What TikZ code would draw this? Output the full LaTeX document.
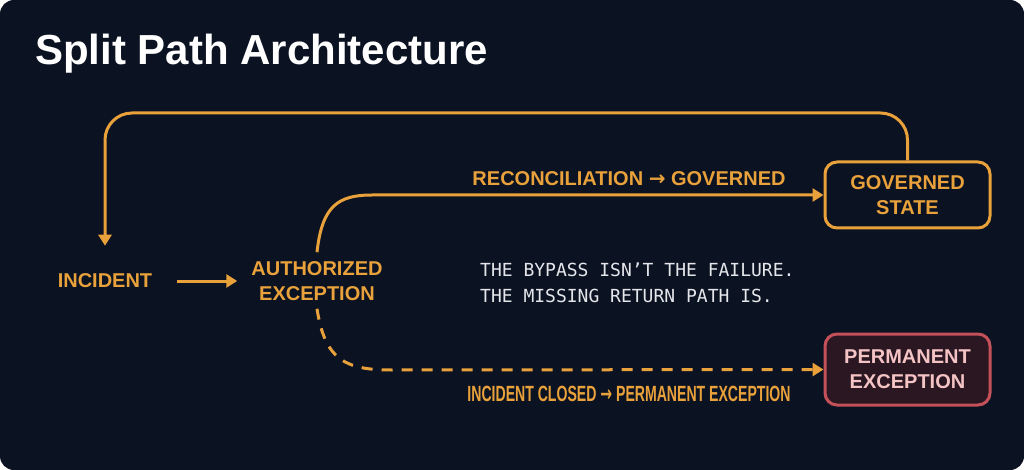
\documentclass[tikz,border=0pt]{standalone}
\usepackage{fontspec}
\setmainfont{Liberation Sans}
\newfontfamily\monofont{DejaVu Sans Mono}
\newfontfamily\arrfont{DejaVu Sans}
\newcommand{\myarr}{{\arrfont\bfseries →}}
\usetikzlibrary{arrows.meta}
\definecolor{bg}{HTML}{0B1222}
\definecolor{org}{HTML}{E9A23B}
\definecolor{permfill}{HTML}{2B1722}
\definecolor{permline}{HTML}{C4505A}
\definecolor{permtext}{HTML}{F4C3C4}
\definecolor{monotext}{HTML}{E4E6EA}
\tikzset{
  lbl/.style={inner sep=0pt, text=org, align=center, font=\fontsize{20}{25}\selectfont\bfseries},
  govbox/.style={draw=org, line width=3pt, rounded corners=12pt, fill=bg, minimum width=165pt, minimum height=66pt, inner sep=0pt, text=org, align=center, font=\fontsize{20}{25}\selectfont\bfseries},
  permbox/.style={draw=permline, line width=3pt, rounded corners=12pt, fill=permfill, minimum width=165pt, minimum height=71pt, inner sep=0pt, text=permtext, align=center, font=\fontsize{20}{25}\selectfont\bfseries},
  flow/.style={draw=org, line width=3pt, -{Triangle[length=11pt,width=13pt]}},
  dashflow/.style={flow, dash pattern=on 11pt off 9pt},
}
\begin{document}
\begin{tikzpicture}[x=1pt,y=-1pt]
\useasboundingbox (0,0) rectangle (1024,470);
\fill[white] (0,0) rectangle (1024,470);
\fill[bg, rounded corners=14pt] (0,0) rectangle (1024,470);

\node[anchor=base west, inner sep=0pt, text=white, font=\fontsize{42}{50}\selectfont\bfseries] (title) at (35,65) {Split Path Architecture};

\node[lbl] (inc) at (105,281) {INCIDENT};
\node[lbl] (auth) at (317,281) {AUTHORIZED\\EXCEPTION};
\node[govbox] (gov) at (907.5,195) {GOVERNED\\STATE};
\node[permbox] (perm) at (907.5,369.5) {PERMANENT\\EXCEPTION};

\node[lbl] (reclbl) at (629,179) {RECONCILIATION \myarr{} GOVERNED};
\node[inner sep=0pt, text=org, font=\fontsize{22}{25}\selectfont\bfseries] (closlbl) at (629,394) {\scalebox{0.64}[1]{INCIDENT CLOSED \myarr{} PERMANENT EXCEPTION}};

\node[inner sep=0pt, text=monotext, align=left, anchor=west, font=\fontsize{18}{26}\monofont] (quote) at (480,283) {THE BYPASS ISN’T THE FAILURE.\\THE MISSING RETURN PATH IS.};

\coordinate (topR) at (907.5,113);
\coordinate (topL) at (105,113);
\draw[flow, rounded corners=27pt, shorten >=28pt] (gov.north) -- (topR) -- (topL) -- (inc.north);
\draw[flow, shorten <=25pt, shorten >=14pt] (inc.east) -- (auth.west);
\coordinate (recStart) at (372,195);
\draw[flow] ([yshift=9pt]auth.north) .. controls (322,206) and (338,195) .. (recStart) -- (gov.west);
\coordinate (dashStart) at (392,370);
\draw[dashflow] ([yshift=-8pt]auth.south) .. controls (325,360) and (345,370) .. (dashStart) -- (perm.west);
\end{tikzpicture}
\end{document}
